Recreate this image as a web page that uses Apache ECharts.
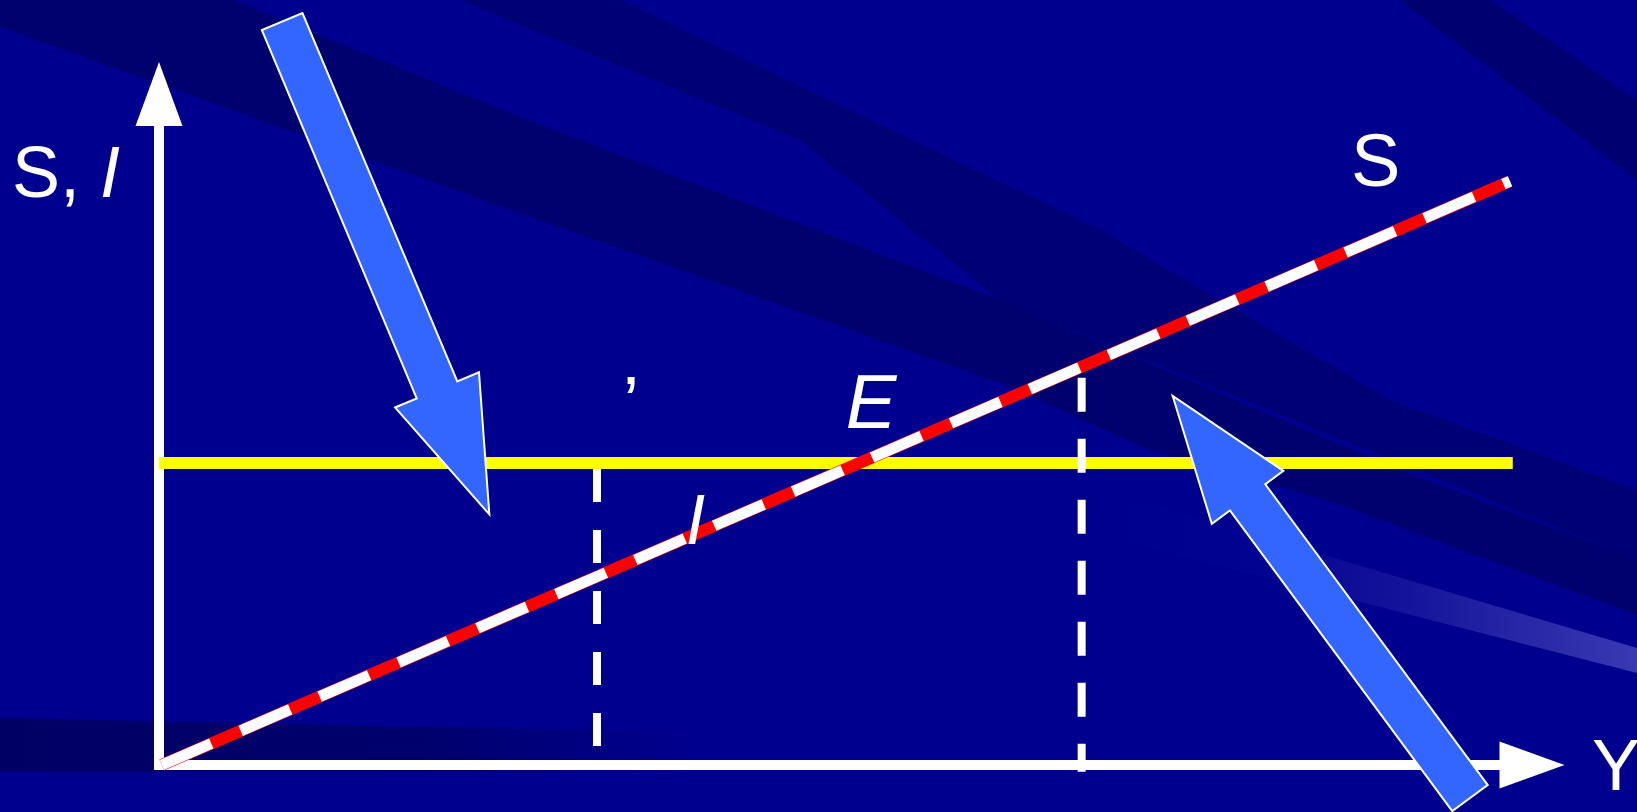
<!DOCTYPE html>
<html>
<head>
<meta charset="utf-8">
<script src="https://cdn.jsdelivr.net/npm/echarts@6/dist/echarts.min.js"></script>
<style>
html,body{margin:0;padding:0;background:#00008f;overflow:hidden;}
#c{width:1637px;height:812px;}
</style>
</head>
<body>
<div id="c"></div>
<script>
// ---- data (abstract units on both axes, 0..100) ----
const X_RANGE = [0, 100];
const Y_RANGE = [0, 100];
const S_LINE = [[0.2, 0], [98.4, 87.0]];          // saving function S
const I_LINE = [[0, 45], [98.6, 45]];             // investment I (horizontal)
const DROP_1 = [[31.9, 44.1], [31.9, 2.8]];       // dashed vertical left
const DROP_2 = [[67.2, 57.7], [67.2, -1.0]];      // dashed vertical right
const ARROWS = [                                  // [tailX, tailY, tipX, tipY]
  [8.97, 110.8, 24.06, 37.36],
  [95.48, -4.92, 73.83, 54.99]
];
const LABEL_TEXT = ['S, I', 'S', 'E', 'I', '\u2019', 'Y'];
const LABEL_POS = [
  [-10.71, 87.63],
  [86.82, 89.35],
  [51.86, 53.43],
  [39.08, 35.85],
  [34.38, 53.35],
  [104.37, -0.74]
];

// ---- styles ----
const FONT = '"Liberation Sans", Arial, sans-serif';
const ARROW_STYLE = [
  { shaft: 44, headW: 91, headL: 135 },
  { shaft: 44, headW: 89, headL: 126 }
];
const LABEL_STYLE = [
  { align: 'left', fontSize: 72, rich: true },
  { align: 'left', fontSize: 74, fontStyle: 'normal' },
  { align: 'center', fontSize: 76, fontStyle: 'italic' },
  { align: 'center', fontSize: 70, fontStyle: 'italic' },
  { align: 'center', fontSize: 72, fontStyle: 'normal' },
  { align: 'left', fontSize: 72, fontStyle: 'normal' }
];

const chart = echarts.init(document.getElementById('c'), null, { renderer: 'canvas' });

function arrowItem(params, api) {
  const t = api.coord([api.value(0), api.value(1)]);
  const h = api.coord([api.value(2), api.value(3)]);
  const st = ARROW_STYLE[params.dataIndex];
  const dx = h[0] - t[0], dy = h[1] - t[1];
  const L = Math.hypot(dx, dy);
  const ux = dx / L, uy = dy / L, px = -uy, py = ux;
  const sw = st.shaft / 2, hw = st.headW / 2, hl = st.headL;
  const bx = h[0] - ux * hl, by = h[1] - uy * hl;
  const pts = [
    [t[0] + px * sw, t[1] + py * sw],
    [bx + px * sw, by + py * sw],
    [bx + px * hw, by + py * hw],
    [h[0], h[1]],
    [bx - px * hw, by - py * hw],
    [bx - px * sw, by - py * sw],
    [t[0] - px * sw, t[1] - py * sw]
  ];
  return {
    type: 'polygon',
    shape: { points: pts },
    style: { fill: '#3366ff', stroke: '#ffffff', lineWidth: 2, lineJoin: 'miter' }
  };
}

const labelData = LABEL_POS.map((p, i) => {
  const s = LABEL_STYLE[i];
  const lab = {
    show: true,
    position: [0.5, 0.5],
    align: s.align,
    verticalAlign: 'middle',
    color: '#ffffff',
    opacity: 1,
    fontFamily: FONT,
    fontSize: s.fontSize,
    lineHeight: s.fontSize,
    textBorderWidth: 0,
    textShadowBlur: 0
  };
  if (s.rich) {
    lab.formatter = '{a|S, }{b|I}';
    lab.rich = {
      a: { fontFamily: FONT, fontSize: s.fontSize, lineHeight: s.fontSize, color: '#fff', fontStyle: 'normal' },
      b: { fontFamily: FONT, fontSize: s.fontSize, lineHeight: s.fontSize, color: '#fff', fontStyle: 'italic' }
    };
  } else {
    lab.formatter = LABEL_TEXT[i];
    lab.fontStyle = s.fontStyle;
  }
  return { value: p, label: lab };
});

const lineCommon = { type: 'line', symbol: 'none', clip: false, silent: true, animation: false };

const option = {
  backgroundColor: '#00008f',
  animation: false,
  grid: { left: 159, right: 105, top: 94, bottom: 47, containLabel: false, outerBoundsMode: 'none' },
  xAxis: {
    type: 'value', min: X_RANGE[0], max: X_RANGE[1],
    axisLine: {
      show: true, onZero: false,
      lineStyle: { color: '#ffffff', width: 10, cap: 'square' },
      symbol: ['none', 'triangle'], symbolSize: [47, 65], symbolOffset: [0, 0]
    },
    axisTick: { show: false }, axisLabel: { show: false }, splitLine: { show: false }
  },
  yAxis: {
    type: 'value', min: Y_RANGE[0], max: Y_RANGE[1],
    axisLine: {
      show: true, onZero: false,
      lineStyle: { color: '#ffffff', width: 10, cap: 'square' },
      symbol: ['none', 'triangle'], symbolSize: [47, 64], symbolOffset: [0, 0]
    },
    axisTick: { show: false }, axisLabel: { show: false }, splitLine: { show: false }
  },
  graphic: [
    // dark swoosh bands of the slide background
    { type: 'polygon', z: -10, silent: true,
      shape: { points: [[0,0],[233,0],[520,117],[1000,300],[1400,470],[1637,560],[1637,615],[1327,500],[1150,450],[1000,383],[520,213],[0,27]] },
      style: { fill: '#00006e' } },
    { type: 'polygon', z: -10, silent: true,
      shape: { points: [[460,0],[620,0],[1100,230],[1390,400],[1637,490],[1637,560],[1000,300],[800,140]] },
      style: { fill: '#000074' } },
    { type: 'polygon', z: -10, silent: true,
      shape: { points: [[1400,0],[1490,0],[1637,100],[1637,180]] },
      style: { fill: '#000070' } },
    { type: 'polygon', z: -10, silent: true,
      shape: { points: [[0,718],[700,733],[700,772],[0,772]] },
      style: { fill: new echarts.graphic.LinearGradient(0, 0, 1, 0, [
        { offset: 0, color: 'rgba(0,0,100,1)' },
        { offset: 0.6, color: 'rgba(0,0,100,0.8)' },
        { offset: 1, color: 'rgba(0,0,100,0)' }
      ]) } },
    { type: 'polygon', z: -10, silent: true,
      shape: { points: [[1100,490],[1307,550],[1637,648],[1637,673],[1100,535]] },
      style: { fill: new echarts.graphic.LinearGradient(0, 0, 1, 0, [
        { offset: 0, color: 'rgba(150,150,235,0)' },
        { offset: 0.3, color: 'rgba(150,150,235,0.02)' },
        { offset: 0.55, color: 'rgba(150,150,235,0.12)' },
        { offset: 1, color: 'rgba(150,150,235,0.38)' }
      ]) } }
  ],
  series: [
    Object.assign({}, lineCommon, { name: 'drop1', data: DROP_1, z: 2,
      lineStyle: { color: '#ffffff', width: 8, type: [33, 28], cap: 'butt' } }),
    Object.assign({}, lineCommon, { name: 'I', data: I_LINE, z: 3,
      lineStyle: { color: '#ffff00', width: 12, cap: 'butt' } }),
    Object.assign({}, lineCommon, { name: 'S', data: S_LINE, z: 4,
      lineStyle: { color: '#ff0000', width: 12, cap: 'butt' } }),
    Object.assign({}, lineCommon, { name: 'S dash', data: S_LINE, z: 5,
      lineStyle: { color: '#ffffff', width: 11, type: [54, 32], cap: 'butt' } }),
    Object.assign({}, lineCommon, { name: 'drop2', data: DROP_2, z: 6,
      lineStyle: { color: '#ffffff', width: 8, type: [34, 27], cap: 'butt' } }),
    {
      type: 'custom', name: 'arrows', z: 8, silent: true, clip: false,
      renderItem: arrowItem,
      encode: { x: [0, 2], y: [1, 3] },
      data: ARROWS
    },
    {
      type: 'scatter', name: 'labels', z: 10, silent: true, clip: false,
      symbol: 'circle', symbolSize: 1,
      itemStyle: { color: 'rgba(0,0,0,0)', opacity: 1 },
      data: labelData
    }
  ]
};
chart.setOption(option);
</script>
</body>
</html>
